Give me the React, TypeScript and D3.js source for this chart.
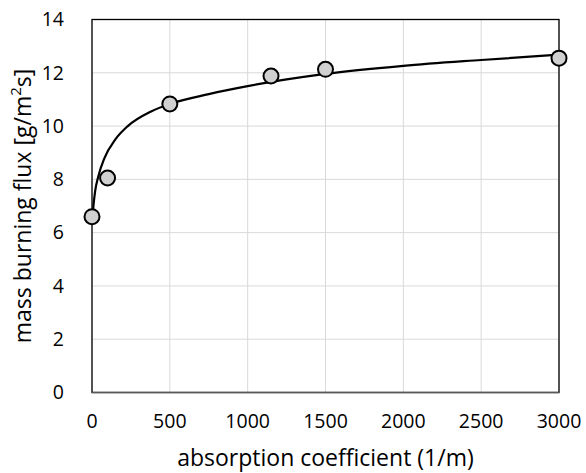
import React from "react";
import * as d3 from "d3";

const pointX = [0, 100, 500, 1150, 1500, 3000];
const pointY = [6.6, 8.05, 10.83, 11.88, 12.13, 12.55];

const curveX = [0, 10, 20, 40, 80, 150, 230, 380, 500, 750, 1000, 1250, 1500, 2000, 2500, 3000];
const curveY = [6.3, 7.05, 7.55, 8.1, 8.8, 9.5, 10.0, 10.55, 10.83, 11.2, 11.5, 11.75, 11.96, 12.26, 12.48, 12.68];

const xTicks = [0, 500, 1000, 1500, 2000, 2500, 3000];
const yTicks = [0, 2, 4, 6, 8, 10, 12, 14];

const W = 586, H = 473;
const M = { left: 92, right: 559, top: 19.5, bottom: 392.5 };
const FONT = "'Open Sans', sans-serif";

export default function App() {
  const x = d3.scaleLinear().domain([0, 3000]).range([M.left, M.right]);
  const y = d3.scaleLinear().domain([0, 14]).range([M.bottom, M.top]);
  const line = d3
    .line<number>()
    .x((_, i) => x(curveX[i]))
    .y((d) => y(d))
    .curve(d3.curveMonotoneX);

  return (
    <svg width={W} height={H} style={{ position: "absolute", left: 0, top: 0, background: "#fff" }}>
      <rect width={W} height={H} fill="#fff" />
      {xTicks.map((t) => (
        <line key={"gx" + t} x1={x(t)} x2={x(t)} y1={M.top} y2={M.bottom} stroke="#d9d9d9" strokeWidth={1} />
      ))}
      {yTicks.map((t) => (
        <line key={"gy" + t} x1={M.left} x2={M.right} y1={y(t)} y2={y(t)} stroke="#d9d9d9" strokeWidth={1} />
      ))}
      <rect x={M.left} y={M.top} width={M.right - M.left} height={M.bottom - M.top} fill="none" stroke="#000" strokeWidth={1.3} />
      <line x1={M.left} x2={M.right} y1={M.bottom} y2={M.bottom} stroke="#595959" strokeWidth={1.5} />
      <path d={line(curveY) || ""} fill="none" stroke="#000" strokeWidth={2.2} />
      {pointX.map((px, i) => (
        <circle key={"p" + i} cx={x(px)} cy={y(pointY[i])} r={7.5} fill="#d0d0d0" stroke="#000" strokeWidth={2} />
      ))}
      {yTicks.map((t) => (
        <text key={"ty" + t} x={64} y={y(t)} dy="0.35em" textAnchor="end" fontFamily={FONT} fontSize={19.5} fill="#000">
          {t}
        </text>
      ))}
      {xTicks.map((t) => (
        <text key={"tx" + t} x={x(t)} y={428} textAnchor="middle" fontFamily={FONT} fontSize={19.5} fill="#000">
          {t}
        </text>
      ))}
      <text x={(M.left + M.right) / 2} y={466} textAnchor="middle" fontFamily={FONT} fontSize={23} fill="#000">
        absorption coefficient (1/m)
      </text>
      <text
        transform={`translate(31, ${(M.top + M.bottom) / 2}) rotate(-90)`}
        textAnchor="middle"
        fontFamily={FONT}
        fontSize={23}
        fill="#000"
      >
        mass burning flux [g/m<tspan baselineShift="super" fontSize={15}>2</tspan>s]
      </text>
    </svg>
  );
}
